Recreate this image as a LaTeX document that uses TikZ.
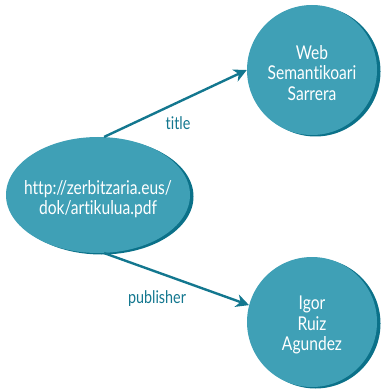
\documentclass[tikz,border=0pt]{standalone}
\usepackage{fontspec}
\setmainfont{Lato}[Ligatures={NoCommon,NoRare}, FakeStretch=0.82]
\usetikzlibrary{shapes.geometric,shadows,arrows.meta}
\definecolor{nodefill}{HTML}{3FA0B6}
\definecolor{nodeshade}{HTML}{0B7189}
\definecolor{linkcol}{HTML}{13778F}
\tikzset{
  res/.style={fill=nodefill, draw=none, inner sep=0pt,
    drop shadow={shadow xshift=3.5pt, shadow yshift=-1.5pt, fill=nodeshade, opacity=1}},
  uri/.style={res, ellipse, minimum width=184pt, minimum height=116pt},
  lit/.style={res, circle, minimum size=130pt},
  caption/.style={text=white, align=center, font=\fontsize{19}{20.5}\selectfont},
  link/.style={draw=linkcol, line width=2.4pt, -{Stealth[length=13pt, width=13pt, inset=4pt]}},
  prop/.style={text=linkcol, font=\fontsize{17.5}{18}\selectfont}
}
\begin{document}
\begin{tikzpicture}[x=1pt, y=-1pt]
  \useasboundingbox (0,0) rectangle (382,390);
  % resource shapes
  \node[uri] (src) at (98,195) {};
  \node[lit] (ttl) at (312,70) {};
  \node[lit] (pub) at (312,322) {};
  % their texts, set a little below the centre
  \node[caption] (srct) at (src.center) [yshift=-4pt] {http://zerbitzaria.eus/\\dok/artikulua.pdf};
  \node[caption] (ttlt) at (ttl.center) [yshift=-3pt] {Web\\Semantikoari\\Sarrera};
  \node[caption] (pubt) at (pub.center) [yshift=-3pt] {Igor\\Ruiz\\Agundez};
  % properties
  \draw[link] (src.84) -- (ttl.west);
  \draw[link] (src.-84) -- (pub.165);
  \node[prop] (lt) at (178,123) {title};
  \node[prop] (lp) at (157,299) {publisher};
\end{tikzpicture}
\end{document}
